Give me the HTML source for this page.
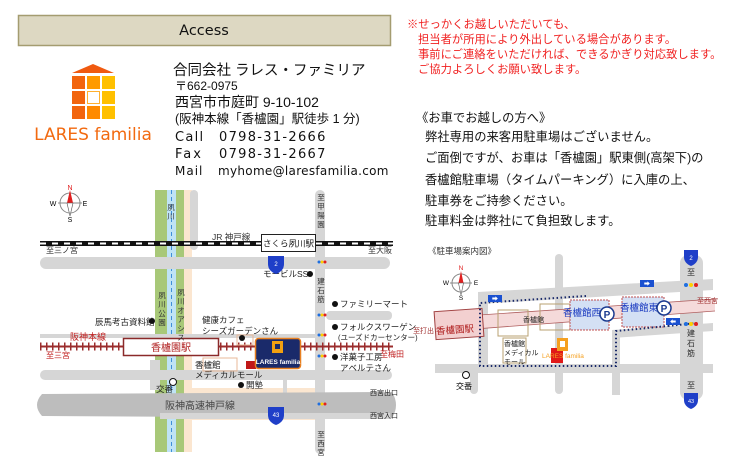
<!DOCTYPE html>
<html><head><meta charset="utf-8"><style>
html,body{margin:0;padding:0;background:#fff;}
svg{display:block;font-family:"Liberation Sans","Noto Sans CJK JP",sans-serif;}
</style></head><body>
<svg width="730" height="459" viewBox="0 0 730 459" xmlns="http://www.w3.org/2000/svg">
<!-- header -->
<rect x="18.5" y="15.5" width="372" height="30" fill="#ddd8c2" stroke="#a49c70" stroke-width="1.5"/>
<text x="204" y="35" font-size="14.5" text-anchor="middle" fill="#111" font-family="DejaVu Sans, sans-serif">Access</text>
<!-- logo -->
<polygon points="72,73 93,64 114,73" fill="#f05a10"/>
<g>
<rect x="72" y="76" width="13" height="13" fill="#f2650e"/><rect x="87" y="76" width="13" height="13" fill="#ff9a00"/><rect x="102" y="76" width="13" height="13" fill="#ffc000"/>
<rect x="72" y="91" width="13" height="13" fill="#f2650e"/><rect x="87.5" y="91.5" width="12" height="12" fill="#fff" stroke="#ffb030"/><rect x="102" y="91" width="13" height="13" fill="#ffc000"/>
<rect x="72" y="106" width="13" height="13" fill="#f2650e"/><rect x="87" y="106" width="13" height="13" fill="#ff8a00"/><rect x="102" y="106" width="13" height="13" fill="#ffc000"/>
</g>
<text x="93" y="140" font-size="17" text-anchor="middle" fill="#f26a10" font-family="DejaVu Sans, sans-serif">LARES familia</text>
<!-- company -->
<g fill="#111">
<text x="173" y="75" font-size="14.5">合同会社 ラレス・ファミリア</text>
<text x="175" y="90" font-size="12">〒662-0975</text>
<text x="175" y="107" font-size="14">西宮市市庭町 9-10-102</text>
<text x="175" y="123" font-size="12.5">(阪神本線「香櫨園」駅徒歩 1 分)</text>
<g font-family="DejaVu Sans, sans-serif">
<text x="175" y="141" font-size="13" letter-spacing="1.3">Call</text>
<text x="219" y="141" font-size="13" letter-spacing="1.3">0798-31-2666</text>
<text x="175" y="158" font-size="13" letter-spacing="2">Fax</text>
<text x="219" y="158" font-size="13" letter-spacing="1.3">0798-31-2667</text>
<text x="175" y="175" font-size="12" letter-spacing="1">Mail</text>
<text x="218" y="175" font-size="12" letter-spacing="0.3">myhome@laresfamilia.com</text>
</g>
</g>
<!-- red note -->
<g fill="#f02020" font-size="11.3">
<text x="407" y="28">※せっかくお越しいただいても、</text>
<text x="418" y="43">担当者が所用により外出している場合があります。</text>
<text x="418" y="58">事前にご連絡をいただければ、できるかぎり対応致します。</text>
<text x="418" y="73">ご協力よろしくお願い致します。</text>
</g>
<g fill="#111" font-size="12.3">
<text x="416" y="122">《お車でお越しの方へ》</text>
<text x="425" y="141">弊社専用の来客用駐車場はございません。</text>
<text x="425" y="162">ご面倒ですが、お車は「香櫨園」駅東側(高架下)の</text>
<text x="425" y="184">香櫨館駐車場（タイムパーキング）に入庫の上、</text>
<text x="425" y="205">駐車券をご持参ください。</text>
<text x="425" y="225">駐車料金は弊社にて負担致します。</text>
</g>

<!-- LEFT MAP -->
<g>
<rect x="183" y="388" width="135" height="32" fill="#fbe6d0"/>
<rect x="183" y="190" width="9" height="262" fill="#fbe6d0"/>
<rect x="155" y="190" width="12" height="262" fill="#a8c878"/>
<rect x="176" y="190" width="8" height="262" fill="#a8c878"/>
<rect x="167" y="190" width="9" height="262" fill="#bfe3f5"/>
<line x1="171.5" y1="190" x2="171.5" y2="452" stroke="#3f8fd8" stroke-dasharray="4,3"/>
<rect x="190" y="190" width="8" height="60" rx="4" fill="#d6d6d6"/>
<rect x="315" y="190" width="10" height="264" rx="5" fill="#d6d6d6"/>
<rect x="40" y="257" width="350" height="12" rx="6" fill="#d6d6d6"/>
<rect x="326" y="311" width="66" height="9" rx="4" fill="#d6d6d6"/>
<rect x="40" y="334" width="278" height="4" fill="#d6d6d6"/>
<rect x="150" y="360" width="10" height="30" fill="#d6d6d6"/>
<rect x="40" y="370" width="352" height="10" rx="5" fill="#d6d6d6"/>
<rect x="283" y="375" width="4" height="34" fill="#d6d6d6"/>
<path d="M42,394 L392,392 Q400,405 392,418 L42,416 Q32,405 42,394Z" fill="#bdbdbd"/>
<rect x="160" y="413" width="230" height="6" fill="#d6d6d6"/>
<text x="200" y="409" font-size="10" fill="#444" text-anchor="middle">阪神高速神戸線</text>
<!-- JR -->
<rect x="40" y="241" width="353" height="5" fill="#111"/>
<line x1="40" y1="243.5" x2="393" y2="243.5" stroke="#fff" stroke-width="2" stroke-dasharray="6,6"/>
<rect x="261.5" y="234.5" width="54" height="17" fill="#fff" stroke="#222"/>
<text x="288.5" y="246.5" font-size="8.5" text-anchor="middle" fill="#111">さくら夙川駅</text>
<text x="212" y="240" font-size="8.5" fill="#333">JR 神戸線</text>
<text x="46" y="253" font-size="8" fill="#333">至三ノ宮</text>
<text x="368" y="253" font-size="8" fill="#333">至大阪</text>
<!-- Hanshin -->
<line x1="40" y1="346.5" x2="393" y2="346.5" stroke="#9b2c2c" stroke-width="2"/>
<line x1="40" y1="346.5" x2="393" y2="346.5" stroke="#9b2c2c" stroke-width="8" stroke-dasharray="1.5,4.5"/>
<rect x="123.5" y="338.5" width="95" height="17" fill="#fff" stroke="#8b2a2a" stroke-width="1.5"/>
<text x="171" y="351" font-size="10" text-anchor="middle" fill="#b02020">香櫨園駅</text>
<text x="70" y="340" font-size="9" fill="#c02020">阪神本線</text>
<text x="46" y="358" font-size="8" fill="#c02020">至三宮</text>
<text x="380" y="357" font-size="8" fill="#c02020">至梅田</text>
<rect x="237" y="335" width="16" height="10" fill="none" stroke="#e8b898"/>
<rect x="203" y="358" width="34" height="13" fill="none" stroke="#e8b898"/>
<rect x="246" y="361" width="10" height="8" fill="#c01818"/>
<rect x="255.5" y="338.5" width="45" height="30" rx="3" fill="#1a2a6a" stroke="#e88020" stroke-width="1.5"/>
<rect x="272" y="341" width="11" height="12" fill="#f2a010"/><rect x="275" y="344" width="5" height="5" fill="#1a2a6a"/>
<text x="278" y="364" font-size="6.5" text-anchor="middle" fill="#fff" font-weight="bold">LARES familia</text>
<g font-size="8.5" fill="#222">
<text x="263" y="277">モービルSS</text><circle cx="310" cy="274" r="3" fill="#111"/>
<circle cx="335" cy="304" r="3" fill="#111"/><text x="340" y="307">ファミリーマート</text>
<text x="95" y="325">辰馬考古資料館</text><circle cx="152" cy="321" r="3" fill="#111"/>
<text x="202" y="323">健康カフェ</text><text x="202" y="334">シーズガーデンさん</text><circle cx="242" cy="338" r="3" fill="#111"/>
<circle cx="335" cy="327" r="3" fill="#111"/><text x="340" y="330">フォルクスワーゲン</text><text x="338" y="340" font-size="7.5">(ユーズドカーセンター)</text>
<circle cx="335" cy="357" r="3" fill="#111"/><text x="340" y="360">洋菓子工房</text><text x="340" y="371">アベルテさん</text>
<text x="195" y="368">香櫨館</text><text x="195" y="378">メディカルモール</text>
<circle cx="241" cy="385" r="3" fill="#111"/><text x="246" y="388">開塾</text>
<circle cx="173" cy="382" r="3.5" fill="#fff" stroke="#111"/><text x="156" y="392">交番</text>
<text x="370" y="395" font-size="7">西宮出口</text><text x="370" y="418" font-size="7">西宮入口</text>
</g>
<g font-size="7.5" fill="#333" text-anchor="middle">
<text x="321" y="200">至</text><text x="321" y="209">甲</text><text x="321" y="218">陽</text><text x="321" y="227">園</text>
<text x="321" y="284">建</text><text x="321" y="293">石</text><text x="321" y="302">筋</text>
<text x="321" y="437">至</text><text x="321" y="446">西</text><text x="321" y="455">宮</text>
<text x="181" y="295">夙</text><text x="181" y="304">川</text><text x="181" y="313">オ</text><text x="181" y="322">ア</text><text x="181" y="331">シ</text><text x="181" y="340">ス</text>
<text x="162" y="298">夙</text><text x="162" y="307">川</text><text x="162" y="316">公</text><text x="162" y="325">園</text>
<text x="171" y="210">夙</text><text x="171" y="219">川</text>
</g>
<g><circle cx="319" cy="262" r="1.5" fill="#1f6fe0"/><circle cx="322" cy="262" r="1.5" fill="#ffd000"/><circle cx="325" cy="262" r="1.5" fill="#e02020"/>
<circle cx="319" cy="315" r="1.5" fill="#1f6fe0"/><circle cx="322" cy="315" r="1.5" fill="#ffd000"/><circle cx="325" cy="315" r="1.5" fill="#e02020"/>
<circle cx="319" cy="335" r="1.5" fill="#1f6fe0"/><circle cx="322" cy="335" r="1.5" fill="#ffd000"/><circle cx="325" cy="335" r="1.5" fill="#e02020"/>
<circle cx="319" cy="356" r="1.5" fill="#1f6fe0"/><circle cx="322" cy="356" r="1.5" fill="#ffd000"/><circle cx="325" cy="356" r="1.5" fill="#e02020"/>
<circle cx="319" cy="404" r="1.5" fill="#1f6fe0"/><circle cx="322" cy="404" r="1.5" fill="#ffd000"/><circle cx="325" cy="404" r="1.5" fill="#e02020"/></g>
<path d="M268,256 h16 v8 q0,7 -8,10 q-8,-3 -8,-10Z" fill="#1f3fc8"/><text x="276" y="266" font-size="6" fill="#fff" text-anchor="middle">2</text>
<path d="M268,407 h16 v8 q0,7 -8,10 q-8,-3 -8,-10Z" fill="#1f3fc8"/><text x="276" y="417" font-size="6" fill="#fff" text-anchor="middle">43</text>
<circle cx="70" cy="203" r="10" fill="none" stroke="#888"/>
<line x1="58" y1="203" x2="82" y2="203" stroke="#888"/>
<polygon points="70,190 67,203 73,203" fill="#e02020"/><polygon points="70,216 67,203 73,203" fill="#fff" stroke="#555" stroke-width="0.6"/>
<text x="70" y="190" font-size="7" fill="#e02020" text-anchor="middle">N</text>
<text x="70" y="222" font-size="7" text-anchor="middle">S</text>
<text x="53" y="206" font-size="7" text-anchor="middle">W</text><text x="85" y="206" font-size="7" text-anchor="middle">E</text>
</g>

<!-- RIGHT MAP -->
<g>
<text x="428" y="254" font-size="8.5" fill="#333">《駐車場案内図》</text>
<rect x="555" y="254" width="8" height="140" rx="4" fill="#d6d6d6"/>
<rect x="680" y="255" width="23" height="145" rx="8" fill="#d6d6d6"/>
<polygon points="478,292 713,279 713,290 478,304" fill="#d6d6d6"/>
<polygon points="478,292 488,292 488,372 478,372" fill="#d6d6d6"/>
<polygon points="612,330 713,323 713,331 612,338" fill="#d6d6d6"/>
<rect x="612" y="330" width="8" height="65" fill="#d6d6d6"/>
<rect x="435" y="364" width="278" height="9" fill="#d6d6d6"/>
<rect x="470" y="364" width="8" height="30" rx="4" fill="#d6d6d6"/>
<polygon points="435,318 715,299 715,311 435,332" fill="#f5dada"/>
<line x1="435" y1="318" x2="715" y2="299" stroke="#b06060" stroke-width="0.8"/>
<line x1="435" y1="332" x2="715" y2="311" stroke="#b06060" stroke-width="0.8"/>
<rect x="435" y="310" width="48" height="28" fill="#f3d0d0" stroke="#a04040" transform="rotate(-4 459 324)"/>
<text x="455" y="333" font-size="9.5" fill="#b02020" text-anchor="middle" transform="rotate(-4 455 330)">香櫨園駅</text>
<rect x="498" y="310" width="30" height="26" fill="none" stroke="#b8a070"/>
<rect x="540" y="304" width="30" height="26" fill="none" stroke="#b8a070"/>
<text x="523" y="322" font-size="7" fill="#222">香櫨館</text>
<rect x="570" y="300" width="39" height="30" fill="#d4e0f4" stroke="#c05050" stroke-dasharray="2,1"/>
<rect x="622" y="297" width="42" height="30" fill="#d4e0f4" stroke="#c05050" stroke-dasharray="2,1"/>
<text x="563" y="316" font-size="9.5" fill="#1a3ac0">香櫨館西</text>
<text x="620" y="311" font-size="9.5" fill="#1a3ac0">香櫨館東</text>
<circle cx="607" cy="314" r="7" fill="#fff" stroke="#1a3a90" stroke-width="1.5"/><text x="607" y="318" font-size="10" text-anchor="middle" fill="#1a3a90" font-weight="bold">P</text>
<circle cx="664" cy="308" r="7" fill="#fff" stroke="#1a3a90" stroke-width="1.5"/><text x="664" y="312" font-size="10" text-anchor="middle" fill="#1a3a90" font-weight="bold">P</text>
<polyline points="586,296 480,303 480,366 616,366 616,331 668,326" fill="none" stroke="#1a2a6a" stroke-width="2" stroke-dasharray="1.5,2.5"/>
<polyline points="668,326 697,323" fill="none" stroke="#1a2a6a" stroke-width="2" stroke-dasharray="1.5,2.5"/>
<rect x="488" y="295" width="14" height="7" fill="#1a50d0"/><text x="495" y="301" font-size="6" fill="#fff" text-anchor="middle">➡</text>
<rect x="640" y="280" width="14" height="7" fill="#1a50d0"/><text x="647" y="286" font-size="6" fill="#fff" text-anchor="middle">➡</text>
<rect x="666" y="318" width="14" height="7" fill="#1a50d0"/><text x="673" y="324" font-size="6" fill="#fff" text-anchor="middle">⬅</text>
<rect x="503" y="338" width="23" height="25" fill="#fff" stroke="#b8a070"/>
<g font-size="7" fill="#222"><text x="504" y="346">香櫨館</text><text x="504" y="355">メディカル</text><text x="504" y="364">モール</text></g>
<rect x="551" y="348" width="12" height="15" fill="#e01818"/>
<rect x="557" y="338" width="11" height="13" fill="#f5a020"/><rect x="560" y="341" width="5" height="6" fill="#fff"/>
<text x="542" y="358" font-size="6.5" fill="#f5a020">LARES familia</text>
<circle cx="466" cy="375" r="3.5" fill="#fff" stroke="#111"/><text x="456" y="389" font-size="8">交番</text>
<text x="413" y="333" font-size="7" fill="#a03030">至打出</text>
<text x="697" y="303" font-size="7" fill="#a03030">至西宮</text>
<g font-size="8" fill="#333" text-anchor="middle">
<text x="691" y="275">至</text><text x="691" y="336">建</text><text x="691" y="346">石</text><text x="691" y="356">筋</text><text x="691" y="388">至</text></g>
<circle cx="686" cy="285" r="2" fill="#1f6fe0"/><circle cx="691" cy="285" r="2" fill="#ffd000"/><circle cx="696" cy="285" r="2" fill="#e02020"/>
<circle cx="686" cy="324" r="2" fill="#1f6fe0"/><circle cx="691" cy="324" r="2" fill="#ffd000"/><circle cx="696" cy="324" r="2" fill="#e02020"/>
<path d="M684,250 h14 v7 q0,6 -7,9 q-7,-3 -7,-9Z" fill="#1f3fc8"/><text x="691" y="260" font-size="6" fill="#fff" text-anchor="middle">2</text>
<path d="M684,393 h14 v7 q0,6 -7,9 q-7,-3 -7,-9Z" fill="#1f3fc8"/><text x="691" y="403" font-size="5.5" fill="#fff" text-anchor="middle">43</text>
<circle cx="461" cy="283" r="9" fill="none" stroke="#888"/>
<line x1="450" y1="283" x2="472" y2="283" stroke="#888"/>
<polygon points="461,271 458.5,283 463.5,283" fill="#e02020"/><polygon points="461,295 458.5,283 463.5,283" fill="#fff" stroke="#555" stroke-width="0.6"/>
<text x="461" y="270" font-size="6.5" fill="#e02020" text-anchor="middle">N</text>
<text x="461" y="300" font-size="6.5" text-anchor="middle">S</text>
<text x="446" y="285" font-size="6.5" text-anchor="middle">W</text><text x="476" y="285" font-size="6.5" text-anchor="middle">E</text>
</g>
</svg>
</body></html>
